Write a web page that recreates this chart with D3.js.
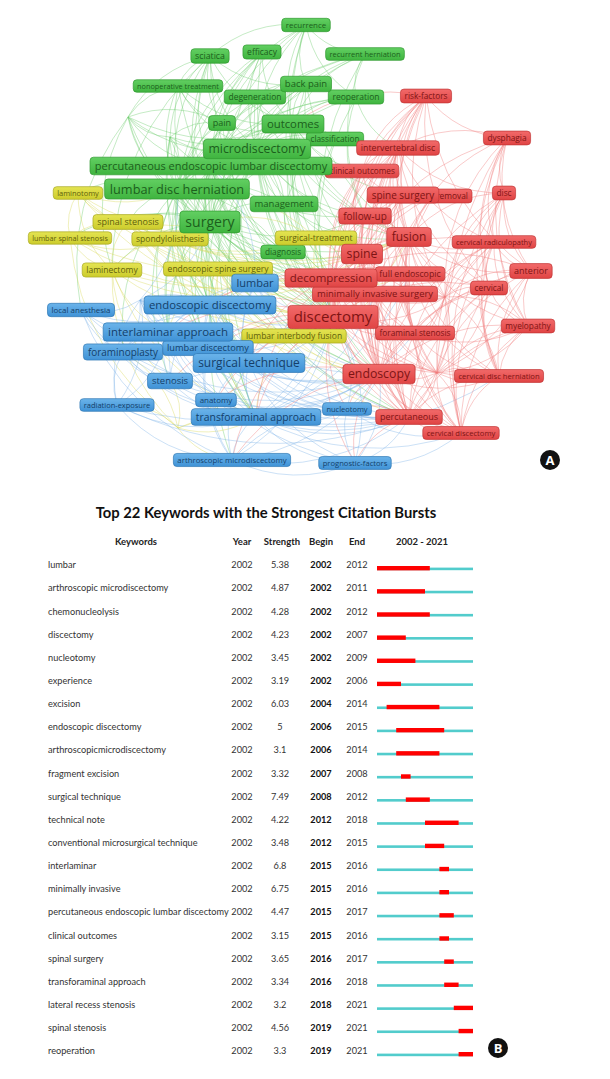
<!DOCTYPE html>
<html><head><meta charset="utf-8">
<script src="https://cdn.jsdelivr.net/npm/d3@7"></script>
<style>body{margin:0;background:#fff}svg{display:block}</style>
</head><body>
<svg id="c" width="610" height="1079"></svg>
<script>
// ---------- Network (A): [id, label, layoutX, layoutY, occurrences-weight] ----------
const greenNodes = [
  ["rec","recurrence",30.6,2.5,12],["sci","sciatica",21.0,5.6,22],["eff","efficacy",26.2,5.2,19],
  ["rh","recurrent herniation",36.5,5.4,6],["not","nonoperative treatment",17.8,8.6,4],
  ["bp","back pain",30.6,8.4,31],["deg","degeneration",25.5,9.7,19],["reop","reoperation",35.6,9.7,19],
  ["pain","pain",22.2,12.3,25],["out","outcomes",29.3,12.4,54],["cls","classification",33.5,13.9,16],
  ["md","microdiscectomy",25.7,14.9,66],["peld","percutaneous endoscopic lumbar discectomy",21.1,16.6,50],
  ["ldh","lumbar disc herniation",17.7,18.9,72],["mgmt","management",28.4,20.4,31],
  ["surg","surgery",21.0,22.2,88],["diag","diagnosis",28.3,25.2,16]
];
const yellowNodes = [
  ["lamt","laminotomy",7.8,19.3,6],["ss","spinal stenosis",12.8,22.2,25],["lss","lumbar spinal stenosis",7.0,23.8,3],
  ["spondy","spondylolisthesis",17.0,23.9,19],["st","surgical-treatment",31.6,23.8,19],
  ["lame","laminectomy",11.2,27.0,19],["ess","endoscopic spine surgery",21.8,26.9,19],
  ["lif","lumbar interbody fusion",29.4,33.6,19]
];
const blueNodes = [
  ["lum","lumbar",25.5,28.3,50],["la","local anesthesia",8.1,31.0,12],["ed","endoscopic discectomy",21.0,30.5,54],
  ["ila","interlaminar approach",16.8,33.2,56],["fp","foraminoplasty",12.3,35.2,37],
  ["ld","lumbar discectomy",20.8,34.8,28],["stech","surgical technique",24.9,36.3,62],
  ["sten","stenosis",17.0,38.1,31],["rad","radiation-exposure",11.7,40.5,6],["anat","anatomy",21.6,40.0,12],
  ["tfa","transforaminal approach",25.6,41.7,42],["nuc","nucleotomy",34.7,40.9,6],
  ["amd","arthroscopic microdiscectomy",23.2,46.0,10],["prog","prognostic-factors",35.5,46.3,8]
];
const redNodes = [
  ["rf","risk-factors",42.6,9.6,16],["dys","dysphagia",50.7,13.8,16],["ivd","intervertebral disc",39.8,14.8,22],
  ["co","clinical outcomes",36.2,17.1,15],["ssurg","spine surgery",40.3,19.5,37],["frem","fragment removal",43.3,19.6,17],
  ["disc","disc",50.4,19.3,16],["fu","follow-up",36.5,21.6,37],["fus","fusion",40.9,23.7,62],
  ["crad","cervical radiculopathy",49.4,24.2,6],["spine","spine",36.2,25.4,66],["ant","anterior",53.1,27.1,25],
  ["fe","full endoscopic",41.0,27.4,22],["dec","decompression",33.1,27.8,56],["cerv","cervical",48.9,28.8,16],
  ["mis","minimally invasive surgery",37.5,29.4,31],["dis","discectomy",33.3,31.7,100],
  ["fs","foraminal stenosis",41.5,33.3,16],["mye","myelopathy",52.8,32.6,16],["endo","endoscopy",37.9,37.4,66],
  ["cdh","cervical disc herniation",49.9,37.6,8],["perc","percutaneous",40.9,41.7,25],["cd","cervical discectomy",46.1,43.3,8]
];
// unlabeled items (labels hidden by overlap) : [id, cluster, x, y]
const hiddenNodes = [
  ["gh1","green",12.8,11.7],["gh2","green",17.0,13.7],["bh","blue",14.0,30.0],
  ["yh","yellow",17.8,42.8],["rh1","red",43.7,37.3],["rh2","red",44.5,29.7]
];
// co-occurrence links: first id is the source, the rest are targets
const links = [
  "rec sci md peld ldh surg out reop rh dis dec bp",
  "sci not md ldh surg gh1 gh2 dis peld pain out bp lame stech",
  "eff peld ldh surg md out dis ila tfa",
  "rh reop md peld ldh dis out surg fu",
  "not gh1 ldh surg md out dis pain",
  "bp md out surg ldh dis peld deg fus spine",
  "deg ldh md surg dis out fus",
  "reop md peld ldh out dis surg fu ivd",
  "pain md surg ldh out dis gh1 gh2",
  "out md surg peld ldh dis dec fus spine mis endo fu co ssurg",
  "cls md ldh surg dis out",
  "md peld ldh surg dis mgmt dec endo lum ed stech mis tfa ila fu fus spine amd",
  "peld ldh surg dis tfa ila ed endo perc lum stech fu mis dec ld",
  "ldh surg dis ed tfa ila endo perc lum stech mis dec fp sten ld lamt ss",
  "mgmt surg dis ldh md out fus dec",
  "surg dis ed ila tfa endo lum stech mis dec fus spine ss lss spondy lame ld fe ess fu perc",
  "diag surg dis ldh md",
  "gh1 md ldh surg dis out peld gh2 la lame",
  "gh2 md ldh surg dis peld out ed tfa",
  "lamt ss lss lame dis surg ldh dec",
  "ss lss spondy lame dec fus surg dis st ess lif endo",
  "lss spondy lame dec fus yh",
  "spondy fus lame dec lif dis st surg",
  "st dis fus dec spine ldh surg",
  "lame dec fus dis yh ila tfa sten",
  "ess dis tfa ila ed endo perc dec fe lif mis stech",
  "lif fus dec dis mis tfa endo spine",
  "yh rad tfa anat stech amd sten fp",
  "lum ed ila tfa dis endo perc stech ld peld",
  "la bh ed tfa ila perc fp amd",
  "ed ila tfa dis endo perc stech ld fp sten bh nuc amd",
  "ila tfa dis endo perc fp stech ld sten bh anat prog",
  "fp tfa endo perc bh sten rad",
  "ld tfa dis stech amd nuc perc endo",
  "stech tfa dis endo perc anat amd nuc prog",
  "sten tfa dec endo bh",
  "rad tfa ila bh endo perc amd",
  "anat tfa endo perc",
  "tfa dis endo perc fs amd nuc prog cd cdh mis fe dec",
  "nuc amd perc dis endo cd prog",
  "amd dis endo perc prog",
  "prog endo dis perc cd",
  "bh ila tfa lum stech rad ldh surg dis",
  "rf ivd ssurg spine fus dis dec mis endo dys co fu fs cerv out ant rh2",
  "dys ant cerv disc cdh crad fus mye ivd rh2 cd spine",
  "ivd dis spine fus dec endo ssurg co mis crad cerv rh2 fe fs perc disc",
  "co dis spine fus dec mis endo ssurg",
  "ssurg dis spine fus dec mis endo fu fe perc",
  "frem dis endo perc fe spine",
  "disc ant cerv cdh crad mye fus rh2 rh1 cd endo",
  "fu dis spine fus dec mis endo perc",
  "fus dis spine dec mis endo perc fe fs ant cerv cdh mye crad rh1 rh2 cd lif",
  "crad ant cerv cdh mye rh2 rh1 cd endo perc dec fs",
  "spine dis dec mis endo perc fe fs rh2 rh1",
  "ant cerv cdh mye rh2 rh1 cd endo dec",
  "fe dis dec mis endo perc fs rh2 rh1 cd cdh",
  "dec dis mis endo perc fs tfa ila ed stech rh2 rh1 cd",
  "cerv cdh mye rh2 rh1 cd endo perc fs dis",
  "mis dis endo perc fs rh2 rh1 cd",
  "dis endo perc fs ed ila tfa stech lum ld rh1 rh2 cd cdh nuc prog amd anat sten",
  "fs endo perc rh1 rh2 cd cdh mye",
  "mye cdh rh1 rh2 cd perc endo",
  "endo perc rh1 rh2 cd cdh nuc prog amd anat",
  "cdh rh1 rh2 cd perc",
  "perc rh1 cd rh2 nuc prog",
  "cd rh1",
  "rh1 rh2 endo perc cd cdh mye ant cerv"
];

// ---------- Burst table (B) ----------
const burstKeywords = ["lumbar","arthroscopic microdiscectomy","chemonucleolysis","discectomy","nucleotomy","experience",
  "excision","endoscopic discectomy","arthroscopicmicrodiscectomy","fragment excision","surgical technique","technical note",
  "conventional microsurgical technique","interlaminar","minimally invasive","percutaneous endoscopic lumbar discectomy",
  "clinical outcomes","spinal surgery","transforaminal approach","lateral recess stenosis","spinal stenosis","reoperation"];
const burstYear = [2002,2002,2002,2002,2002,2002,2002,2002,2002,2002,2002,2002,2002,2002,2002,2002,2002,2002,2002,2002,2002,2002];
const burstStrength = [5.38,4.87,4.28,4.23,3.45,3.19,6.03,5,3.1,3.32,7.49,4.22,3.48,6.8,6.75,4.47,3.15,3.65,3.34,3.2,4.56,3.3];
const burstBegin = [2002,2002,2002,2002,2002,2002,2004,2006,2006,2007,2008,2012,2012,2015,2015,2015,2015,2016,2016,2018,2019,2019];
const burstEnd = [2012,2011,2012,2007,2009,2006,2014,2015,2014,2008,2012,2018,2015,2016,2016,2017,2016,2017,2018,2021,2021,2021];
const timeSpan = [2002, 2021];
const tableTitle = "Top 22 Keywords with the Strongest Citation Bursts";
const tableHeaders = ["Keywords","Year","Strength","Begin","End","2002 - 2021"];

// ================= drawing =================
const svg = d3.select("#c");
svg.append("rect").attr("width",610).attr("height",1079).attr("fill","#fff");

const pal = {
  green: {top:"#62cf62", bot:"#3fb43f", stroke:"#2f9a2f", text:"#1c5f1c", line:"#6fce6f"},
  yellow:{top:"#e4e452", bot:"#cccc2c", stroke:"#a9a924", text:"#5f5f0c", line:"#d9d95a"},
  blue:  {top:"#6bb4ea", bot:"#3f92d6", stroke:"#2f78b4", text:"#143f6a", line:"#7fb5e8"},
  red:   {top:"#f26a6a", bot:"#e04444", stroke:"#c23636", text:"#7e1414", line:"#f07a7a"}
};
const defs = svg.append("defs");
Object.entries(pal).forEach(([k,p])=>{
  const g = defs.append("linearGradient").attr("id","g-"+k).attr("x1",0).attr("y1",0).attr("x2",0).attr("y2",1);
  g.append("stop").attr("offset","0%").attr("stop-color",p.top);
  g.append("stop").attr("offset","100%").attr("stop-color",p.bot);
});

const x = d3.scaleLinear().domain([0,61]).range([0,610]);
const y = d3.scaleLinear().domain([0,49]).range([0,490]);
const fontScale = d3.scaleLinear().domain([0,100]).range([7,15]);

const nodes = [];
[["green",greenNodes],["yellow",yellowNodes],["blue",blueNodes],["red",redNodes]].forEach(([c,arr])=>
  arr.forEach(([id,label,lx,ly,w])=>nodes.push({id,label,lx,ly,w,c,shown:true})));
hiddenNodes.forEach(([id,c,lx,ly])=>nodes.push({id,label:"",lx,ly,w:0,c,shown:false}));
const byId = new Map(nodes.map(n=>[n.id,n]));

const edges = [];
links.forEach(s=>{ const [src,...tg]=s.split(" "); tg.forEach(t=>{ if(byId.has(t)) edges.push({s:byId.get(src),t:byId.get(t)}); }); });

svg.append("g").selectAll("path").data(edges).join("path")
  .attr("d", d=>{
    const x1=x(d.s.lx), y1=y(d.s.ly), x2=x(d.t.lx), y2=y(d.t.ly);
    const mx=(x1+x2)/2, my=(y1+y2)/2, dx=x2-x1, dy=y2-y1;
    const k=0.22;
    return `M${x1},${y1}Q${mx-dy*k},${my+dx*k} ${x2},${y2}`;
  })
  .attr("fill","none")
  .attr("stroke", d=>pal[d.s.c].line)
  .attr("stroke-width",0.8)
  .attr("stroke-opacity",0.5);

const shown = nodes.filter(n=>n.shown).sort((a,b)=>a.w-b.w);
const ng = svg.append("g").selectAll("g").data(shown).join("g")
  .attr("transform", d=>`translate(${x(d.lx)},${y(d.ly)})`);
ng.each(function(d){
  const g = d3.select(this);
  const fs = fontScale(d.w);
  const t = g.append("text").text(d.label)
    .attr("font-family","'Open Sans', sans-serif").attr("font-size",fs)
    .attr("text-anchor","middle").attr("dy","0.36em").attr("fill",pal[d.c].text);
  const tw = t.node().getComputedTextLength();
  const bw = tw + fs*0.5 + 4, bh = fs*1.4 + 2.2;
  g.insert("rect","text").attr("x",-bw/2).attr("y",-bh/2).attr("width",bw).attr("height",bh)
    .attr("rx",3.5).attr("fill",`url(#g-${d.c})`).attr("stroke",pal[d.c].stroke).attr("stroke-width",0.7);
});

function badge(cx,cy,letter){
  svg.append("circle").attr("cx",cx).attr("cy",cy).attr("r",10).attr("fill","#111");
  svg.append("text").attr("x",cx).attr("y",cy).attr("dy","0.36em").attr("text-anchor","middle")
    .attr("font-family","'Open Sans', sans-serif").attr("font-weight",700).attr("font-size",13)
    .attr("fill","#fff").text(letter);
}
badge(550,460,"A");

// ---------- table ----------
const tf = "Lato, sans-serif";
svg.append("text").attr("x",266).attr("y",513).attr("dy","0.36em").attr("text-anchor","middle")
  .attr("font-family",tf).attr("font-weight",700).attr("font-size",14.8).attr("fill","#111").text(tableTitle);

const colX = [136,242,282,321,357,422];
const headerY = 542;
svg.append("g").selectAll("text").data(tableHeaders).join("text")
  .attr("x",(d,i)=>colX[i]).attr("y",headerY).attr("dy","0.36em").attr("text-anchor","middle")
  .attr("font-family",tf).attr("font-weight",700).attr("font-size",9.5).attr("fill","#222").text(d=>d);

const rowY = d3.scaleLinear().domain([0,burstKeywords.length-1]).range([565,1051]);
const tx = d3.scaleLinear().domain([timeSpan[0], timeSpan[1]+1]).range([377,473]);
const rows = svg.append("g").selectAll("g").data(burstKeywords.map((k,i)=>({k,i}))).join("g")
  .attr("transform",d=>`translate(0,${rowY(d.i)})`);
const txt = (sel)=>sel.attr("dy","0.36em").attr("font-family",tf).attr("font-size",9.2).attr("fill","#333");
rows.append("text").attr("x",48).text(d=>d.k).call(txt);
rows.append("text").attr("x",colX[1]).attr("text-anchor","middle").text(d=>burstYear[d.i]).call(txt);
rows.append("text").attr("x",280).attr("text-anchor","middle").text(d=>burstStrength[d.i]).call(txt);
rows.append("text").attr("x",colX[3]).attr("text-anchor","middle").text(d=>burstBegin[d.i]).call(txt).attr("font-weight",700).attr("fill","#111");
rows.append("text").attr("x",colX[4]).attr("text-anchor","middle").text(d=>burstEnd[d.i]).call(txt);
rows.append("rect").attr("x",tx(timeSpan[0])).attr("y",2.6).attr("width",tx(timeSpan[1]+1)-tx(timeSpan[0])).attr("height",2.6).attr("fill","#52cccc");
rows.append("rect").attr("x",d=>tx(burstBegin[d.i])).attr("y",1.0).attr("width",d=>tx(burstEnd[d.i]+1)-tx(burstBegin[d.i])).attr("height",4.4).attr("fill","#ff0000");

badge(498,1048,"B");
</script>
</body></html>
